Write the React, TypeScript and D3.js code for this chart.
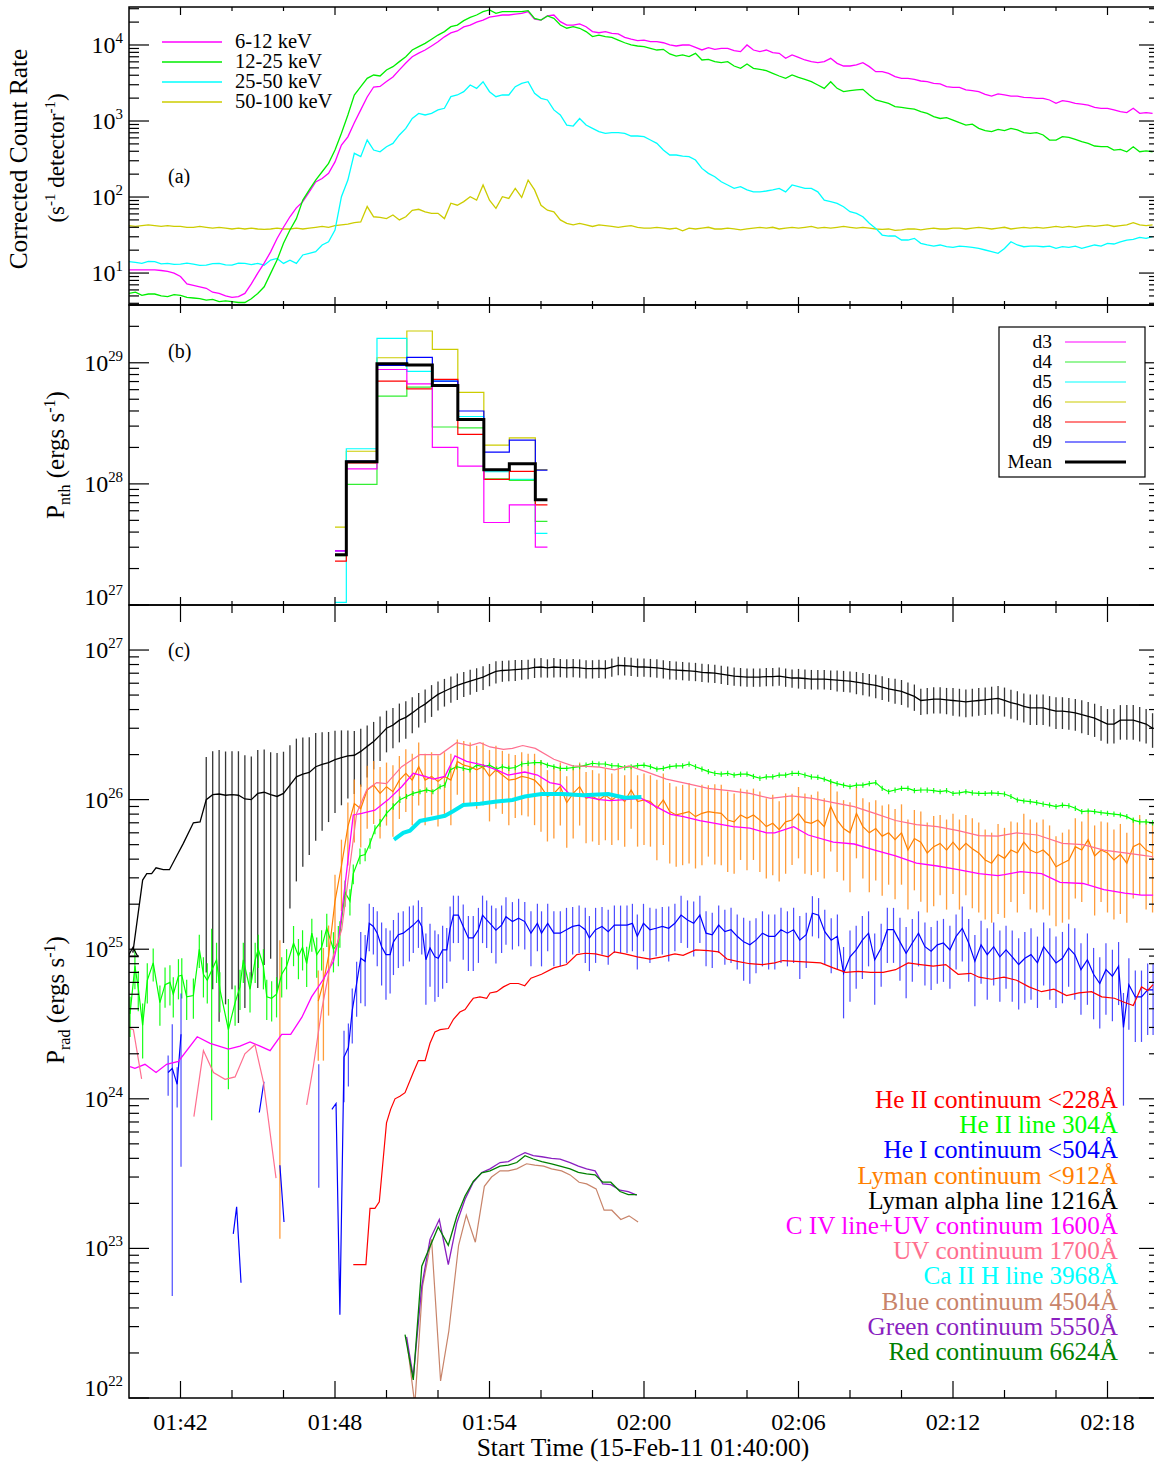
import React from 'react';
import * as d3 from 'd3';

// ---------------- DATA ----------------
// Panel (a): RHESSI corrected count rates, minutes after 01:40:00 on a 15 s grid
const T_GRID: number[] = d3.range(0, 40, 0.25);

const RATE_6_12 = [
  11, 11, 11, 11, 11, 10.8, 10.5, 10,
  9, 7.2, 6.9, 6.6, 6.3, 5.6, 5.4, 5.0,
  4.8, 4.9, 5.4, 7.2, 10, 13.5, 19, 28.5,
  40, 55, 72, 87, 117, 158, 175, 205,
  290, 483, 620, 950, 1400, 2070, 2800, 2850,
  3300, 3800, 4700, 5800, 7000, 7800, 8600, 9700,
  11000, 12800, 14400, 15300, 17300, 18300, 20000, 21300,
  23300, 24000, 24800, 24800, 25500, 26100, 27500, 21800,
  21300, 24100, 24800, 20300, 18300, 18300, 18900, 17400,
  15000, 14500, 15000, 14200, 14000, 12600, 11900, 11400,
  11600, 11100, 11100, 10700, 10000, 9700, 10000, 10000,
  9300, 8600, 9230, 8770, 9040, 9040, 8420, 8170,
  10000, 8590, 8170, 8590, 7930, 7770, 6680, 7390,
  6880, 6350, 6040, 5860, 6040, 6680, 5740, 5290,
  5290, 5460, 5860, 5190, 4460, 4460, 4240, 3830,
  3640, 3640, 3530, 3360, 3290, 3130, 3070, 2830,
  2770, 2770, 2560, 2510, 2430, 2240, 2130, 2270,
  2200, 2130, 2130, 2050, 2030, 1990, 1990, 1890,
  1710, 1850, 1800, 1710, 1670, 1620, 1510, 1470,
  1470, 1400, 1330, 1290, 1470, 1260, 1290, 1260,
];

const RATE_12_25 = [
  5.4, 5.6, 5.1, 5.3, 5.3, 5.0, 4.9, 5.2,
  5.1, 4.8, 4.7, 4.6, 4.4, 4.5, 4.2, 4.3,
  4.2, 4.1, 4.1, 4.6, 5.4, 6.6, 9.9, 14.8,
  24.6, 36.8, 52, 91, 124, 167, 215, 277,
  415, 689, 1200, 2200, 2830, 3640, 4030, 3910,
  4690, 5190, 6040, 7020, 8590, 9510, 10500, 11900,
  13500, 15000, 17400, 18300, 20900, 23100, 24800, 27500,
  28900, 26100, 27500, 27500, 27500, 27500, 28300, 22400,
  21300, 24100, 22400, 18300, 16600, 17400, 16600, 15000,
  12900, 13500, 12900, 12600, 11600, 10700, 10000, 9700,
  9510, 9040, 8590, 8770, 7630, 7160, 7390, 7020,
  7770, 6350, 6480, 6040, 5860, 6040, 5290, 4930,
  5620, 4930, 4790, 4590, 4240, 3910, 3640, 4030,
  3760, 3530, 3290, 2980, 2690, 3290, 2690, 2430,
  2510, 2560, 2610, 2200, 1890, 1800, 1710, 1550,
  1510, 1470, 1430, 1330, 1260, 1140, 1080, 1110,
  1030, 950, 885, 910, 800, 747, 725, 777,
  747, 800, 762, 702, 689, 702, 655, 562,
  562, 622, 610, 574, 535, 508, 469, 459,
  459, 415, 424, 394, 459, 394, 404, 394,
];

const RATE_25_50 = [
  14.1, 13.8, 13.4, 14.2, 14.1, 13.2, 13.4, 13.0,
  13.1, 13.5, 13.1, 12.6, 12.7, 13.3, 13.4, 12.8,
  12.7, 13.5, 13.4, 12.9, 13.4, 12.7, 14.8, 15.6,
  13.4, 14.8, 13.4, 17.3, 18.2, 19.1, 23.4, 25.8,
  36.8, 101, 167, 376, 340, 562, 415, 394,
  459, 508, 655, 800, 1080, 1260, 1200, 1260,
  1400, 1470, 2090, 2200, 2430, 2980, 2690, 3290,
  2430, 2090, 2200, 2200, 2830, 3130, 3290, 2310,
  1990, 1890, 1400, 1200, 885, 859, 1080, 885,
  800, 725, 689, 702, 702, 689, 635, 635,
  622, 562, 508, 415, 357, 357, 346, 340,
  307, 238, 205, 185, 159, 144, 130, 137,
  124, 117, 117, 120, 124, 130, 117, 144,
  137, 130, 130, 117, 91, 86.8, 82.5, 74.6,
  64.1, 60.9, 55.1, 45.1, 38.7, 31.6, 30.7, 30.7,
  27.2, 27.2, 28.6, 24.6, 23.4, 22.6, 23.4, 22.2,
  21.8, 22.6, 22.2, 21.8, 21.1, 20.1, 19.1, 18.2,
  21.1, 25.8, 23.4, 22.2, 22.6, 22.6, 22.2, 22.6,
  21.1, 22.2, 21.8, 22.6, 21.1, 22.2, 23.4, 22.6,
  24.6, 24.1, 25.8, 27.2, 27.7, 29.5, 28.6, 30.1,
];

const RATE_50_100 = [
  42, 41, 42, 43, 42, 41, 42, 41,
  41, 40, 40, 41, 40, 39, 40, 39,
  38, 39, 38, 39, 38, 37.5, 38, 39,
  38, 38, 39, 38, 39, 40, 41, 40,
  42, 43, 44, 46, 47, 75, 55, 54,
  52, 58, 50, 55, 67, 69, 64, 61,
  61, 52, 83, 78, 87, 101, 91, 144,
  91, 71, 101, 96, 130, 99, 167, 124,
  78, 67, 64, 50, 45, 43, 45, 43,
  41, 43, 42, 41, 40, 41, 42, 40,
  39, 39, 40, 39, 38, 39, 36, 39,
  38, 39, 40, 38, 38, 39, 38, 37,
  38, 39, 40, 39, 40, 38, 39, 40,
  39, 40, 41, 39, 40, 39, 40, 41,
  40, 39, 40, 39, 38, 37.5, 38, 36.5,
  37, 38, 38, 37, 38, 39, 38, 38,
  39, 39, 38, 39, 40, 39, 38, 39,
  40, 38, 39, 40, 39, 40, 39, 40,
  41, 40, 41, 40, 41, 42, 41, 42,
  43, 41, 42, 43, 46, 43, 42, 43,
];

// Panel (b): non-thermal power per detector, histogram bins (minutes)
const PNTH_EDGES = [8.0, 8.44, 9.63, 10.79, 11.78, 12.77, 13.78, 14.77, 15.78, 16.25];
const PNTH_D3 = [2.8e27, 1.33e28, 8.8e28, 6.7e28, 2.0e28, 1.4e28, 4.8e27, 6.7e27, 3.0e27];
const PNTH_D4 = [2.55e27, 9.9e27, 5.3e28, 6.3e28, 2.95e28, 2.9e28, 1.1e28, 1.07e28, 4.9e27];
const PNTH_D5 = [1.05e27, 1.95e28, 1.59e29, 8.5e28, 7.05e28, 3.6e28, 1.26e28, 1.09e28, 3.9e27];
const PNTH_D6 = [4.4e27, 1.86e28, 1.1e29, 1.83e29, 1.29e29, 5.7e28, 2.09e28, 2.4e28, 1.31e28];
const PNTH_D8 = [2.3e27, 1.49e28, 7.05e28, 6.1e28, 7.3e28, 2.56e28, 1.09e28, 1.27e28, 6.7e27];
const PNTH_D9 = [2.8e27, 1.54e28, 9.5e28, 1.11e29, 7.05e28, 4.0e28, 1.83e28, 2.3e28, 1.3e28];
const PNTH_MEAN = [2.6e27, 1.52e28, 9.8e28, 9.6e28, 6.5e28, 3.4e28, 1.31e28, 1.47e28, 7.4e27];

// Panel (c): radiated power [minute, value, relative error]; null = gap
type PE = [number, number, number] | null;
type P = [number, number] | null;

const LYA_1216: PE[] = [
  [0.15, 9.5e24, 0], [0.53, 2.9e25, 0], [0.69, 3.2e25, 0], [0.88, 3.2e25, 0], [1.05, 3.5e25, 0],
  [1.33, 3.4e25, 0], [1.57, 3.4e25, 0], [1.85, 4.2e25, 0], [2.11, 5.1e25, 0], [2.5, 7.0e25, 0], [2.76, 7.1e25, 0],
  [3.0, 1.0e26, 0.93], [3.25, 1.08e26, 0.95], [3.5, 1.09e26, 0.97], [3.75, 1.07e26, 0.96], [4.0, 1.08e26, 0.95],
  [4.25, 1.07e26, 0.97], [4.5, 1.01e26, 0.96], [4.75, 1.0e26, 0.94], [5.0, 1.1e26, 0.95], [5.25, 1.12e26, 0.93],
  [5.5, 1.08e26, 0.92], [5.75, 1.05e26, 0.95], [6.0, 1.1e26, 0.9], [6.25, 1.25e26, 0.85], [6.5, 1.42e26, 0.8],
  [6.75, 1.48e26, 0.76], [7.0, 1.52e26, 0.72], [7.25, 1.66e26, 0.68], [7.5, 1.72e26, 0.64], [7.75, 1.77e26, 0.6],
  [8.0, 1.85e26, 0.56], [8.25, 1.91e26, 0.52], [8.5, 1.96e26, 0.48], [8.75, 1.98e26, 0.45], [9.0, 2.1e26, 0.42],
  [9.25, 2.27e26, 0.38], [9.5, 2.45e26, 0.35], [9.75, 2.7e26, 0.33], [10.0, 3.0e26, 0.31], [10.25, 3.15e26, 0.3],
  [10.5, 3.4e26, 0.29], [10.75, 3.55e26, 0.28], [11.0, 3.8e26, 0.27], [11.25, 4.1e26, 0.26], [11.5, 4.35e26, 0.25],
  [11.75, 4.7e26, 0.24], [12.0, 5.05e26, 0.22], [12.25, 5.3e26, 0.21], [12.5, 5.55e26, 0.2], [12.75, 5.8e26, 0.2],
  [13.0, 6.0e26, 0.19], [13.25, 6.2e26, 0.19], [13.5, 6.4e26, 0.18], [13.75, 6.6e26, 0.18], [14.0, 6.9e26, 0.17],
  [14.25, 7.2e26, 0.17], [14.5, 7.3e26, 0.16], [14.75, 7.35e26, 0.16], [15.0, 7.4e26, 0.16], [15.25, 7.45e26, 0.15],
  [15.5, 7.5e26, 0.15], [15.75, 7.65e26, 0.15], [16.0, 7.7e26, 0.15], [16.25, 7.6e26, 0.14], [16.5, 7.7e26, 0.15],
  [16.75, 7.65e26, 0.14], [17.0, 7.6e26, 0.14], [17.25, 7.65e26, 0.14], [17.5, 7.6e26, 0.14], [17.75, 7.5e26, 0.14],
  [18.0, 7.5e26, 0.14], [18.25, 7.55e26, 0.14], [18.5, 7.5e26, 0.14], [18.75, 7.7e26, 0.14], [19.0, 7.9e26, 0.14],
  [19.25, 7.85e26, 0.14], [19.5, 7.8e26, 0.14], [19.75, 7.7e26, 0.14], [20.0, 7.7e26, 0.14], [20.25, 7.65e26, 0.14],
  [20.5, 7.6e26, 0.14], [20.75, 7.5e26, 0.14], [21.0, 7.4e26, 0.14], [21.25, 7.35e26, 0.14], [21.5, 7.3e26, 0.14],
  [21.75, 7.25e26, 0.14], [22.0, 7.2e26, 0.14], [22.25, 7.1e26, 0.14], [22.5, 7.05e26, 0.14], [22.75, 7.0e26, 0.14],
  [23.0, 6.9e26, 0.14], [23.25, 6.8e26, 0.14], [23.5, 6.7e26, 0.14], [23.75, 6.65e26, 0.14], [24.0, 6.6e26, 0.14],
  [24.25, 6.6e26, 0.14], [24.5, 6.6e26, 0.14], [24.75, 6.65e26, 0.14], [25.0, 6.65e26, 0.14], [25.25, 6.7e26, 0.14],
  [25.5, 6.6e26, 0.14], [25.75, 6.5e26, 0.14], [26.0, 6.5e26, 0.15], [26.25, 6.45e26, 0.15], [26.5, 6.4e26, 0.15],
  [26.75, 6.4e26, 0.15], [27.0, 6.4e26, 0.15], [27.25, 6.35e26, 0.15], [27.5, 6.3e26, 0.16], [27.75, 6.25e26, 0.16],
  [28.0, 6.2e26, 0.16], [28.25, 6.1e26, 0.17], [28.5, 6.0e26, 0.17], [28.75, 5.9e26, 0.17], [29.0, 5.8e26, 0.18],
  [29.25, 5.65e26, 0.18], [29.5, 5.5e26, 0.18], [29.75, 5.4e26, 0.19], [30.0, 5.3e26, 0.19], [30.25, 5.1e26, 0.19],
  [30.5, 4.9e26, 0.2], [30.75, 4.6e26, 0.2], [31.0, 4.65e26, 0.2], [31.25, 4.7e26, 0.2], [31.5, 4.7e26, 0.2],
  [31.75, 4.65e26, 0.2], [32.0, 4.6e26, 0.21], [32.25, 4.55e26, 0.21], [32.5, 4.5e26, 0.21], [32.75, 4.55e26, 0.21],
  [33.0, 4.6e26, 0.21], [33.25, 4.65e26, 0.21], [33.5, 4.7e26, 0.21], [33.75, 4.75e26, 0.21], [34.0, 4.6e26, 0.22],
  [34.25, 4.45e26, 0.22], [34.5, 4.35e26, 0.22], [34.75, 4.2e26, 0.22], [35.0, 4.1e26, 0.23], [35.25, 4.1e26, 0.23],
  [35.5, 4.1e26, 0.23], [35.75, 4.0e26, 0.23], [36.0, 3.9e26, 0.24], [36.25, 3.9e26, 0.24], [36.5, 3.86e26, 0.24],
  [36.75, 3.8e26, 0.24], [37.0, 3.7e26, 0.25], [37.25, 3.6e26, 0.25], [37.5, 3.5e26, 0.25], [37.75, 3.35e26, 0.26],
  [38.0, 3.2e26, 0.26], [38.25, 3.2e26, 0.26], [38.5, 3.4e26, 0.26], [38.75, 3.4e26, 0.26], [39.0, 3.4e26, 0.26],
  [39.25, 3.3e26, 0.26], [39.5, 3.2e26, 0.26], [39.75, 3.0e26, 0.26],
];

const LYC_912: PE[] = [
  [5.86, 5.8e24, 0.98], null,
  [7.35, 4.5e24, 0.6], [7.55, 6.0e24, 0.7], [7.75, 9.0e24, 0.6], [8.0, 2.1e25, 0.5], [8.25, 3.6e25, 0.5],
  [8.5, 6.6e25, 0.45], [8.75, 9.4e25, 0.45], [9.0, 8.7e25, 0.45], [9.25, 1.16e26, 0.45], [9.5, 1.25e26, 0.45],
  [9.75, 1.1e26, 0.5], [10.0, 1.22e26, 0.45], [10.25, 1.13e26, 0.5], [10.5, 1.35e26, 0.45], [10.75, 1.5e26, 0.45],
  [11.0, 1.35e26, 0.5], [11.25, 1.66e26, 0.45], [11.5, 1.35e26, 0.5], [11.75, 1.43e26, 0.45], [12.0, 1.32e26, 0.5],
  [12.25, 1.43e26, 0.45], [12.5, 1.35e26, 0.5], [12.75, 1.8e26, 0.4], [13.0, 1.7e26, 0.45], [13.25, 1.66e26, 0.45],
  [13.5, 1.58e26, 0.45], [13.75, 1.66e26, 0.45], [14.0, 1.43e26, 0.5], [14.25, 1.58e26, 0.45], [14.5, 1.46e26, 0.45],
  [14.75, 1.35e26, 0.5], [15.0, 1.37e26, 0.45], [15.25, 1.43e26, 0.45], [15.5, 1.4e26, 0.45], [15.75, 1.35e26, 0.5],
  [16.0, 1.22e26, 0.5], [16.25, 1.05e26, 0.5], [16.5, 1.1e26, 0.5], [16.75, 1.22e26, 0.45], [17.0, 9.55e25, 0.5],
  [17.25, 1.1e26, 0.5], [17.5, 1.22e26, 0.45], [17.75, 1.02e26, 0.5], [18.0, 1.05e26, 0.5], [18.25, 9.95e25, 0.5],
  [18.5, 1.07e26, 0.5], [18.75, 9.95e25, 0.5], [19.0, 1.07e26, 0.5], [19.25, 9.7e25, 0.5], [19.5, 1.16e26, 0.45],
  [19.75, 9.7e25, 0.5], [20.0, 9.95e25, 0.5], [20.25, 9.7e25, 0.5], [20.5, 8.75e25, 0.55], [20.75, 9.95e25, 0.5],
  [21.0, 8.32e25, 0.55], [21.25, 7.9e25, 0.55], [21.5, 8.1e25, 0.55], [21.75, 8.32e25, 0.55], [22.0, 7.7e25, 0.55],
  [22.25, 8.1e25, 0.55], [22.5, 8.32e25, 0.5], [22.75, 8.18e25, 0.55], [23.0, 8.1e25, 0.55], [23.25, 7.3e25, 0.55],
  [23.5, 7.1e25, 0.55], [23.75, 7.9e25, 0.5], [24.0, 7.5e25, 0.55], [24.25, 7.9e25, 0.5], [24.5, 7.3e25, 0.55],
  [24.75, 6.6e25, 0.55], [25.0, 6.95e25, 0.55], [25.25, 6.3e25, 0.55], [25.5, 7.1e25, 0.55], [25.75, 7.3e25, 0.5],
  [26.0, 8.1e25, 0.5], [26.25, 7.1e25, 0.55], [26.5, 6.95e25, 0.55], [26.75, 7.3e25, 0.55], [27.0, 6.6e25, 0.55],
  [27.25, 9.0e25, 0.5], [27.5, 7.3e25, 0.55], [27.75, 6.4e25, 0.55], [28.0, 6.0e25, 0.6], [28.25, 8.1e25, 0.5],
  [28.5, 6.6e25, 0.55], [28.75, 6.0e25, 0.6], [29.0, 6.4e25, 0.55], [29.25, 5.7e25, 0.6], [29.5, 6.0e25, 0.55],
  [29.75, 5.4e25, 0.6], [30.0, 6.0e25, 0.55], [30.25, 4.6e25, 0.6], [30.5, 5.5e25, 0.55], [30.75, 5.2e25, 0.6],
  [31.0, 4.4e25, 0.6], [31.25, 4.85e25, 0.6], [31.5, 5.1e25, 0.55], [31.75, 4.6e25, 0.6], [32.0, 5.2e25, 0.55],
  [32.25, 4.6e25, 0.6], [32.5, 5.1e25, 0.55], [32.75, 4.7e25, 0.6], [33.0, 4.4e25, 0.6], [33.25, 3.95e25, 0.6],
  [33.5, 3.76e25, 0.6], [33.75, 4.3e25, 0.6], [34.0, 4.05e25, 0.6], [34.25, 4.6e25, 0.55], [34.5, 4.4e25, 0.6],
  [34.75, 5.2e25, 0.55], [35.0, 4.6e25, 0.6], [35.25, 4.4e25, 0.6], [35.5, 4.6e25, 0.6], [35.75, 4.2e25, 0.6],
  [36.0, 3.56e25, 0.6], [36.25, 3.76e25, 0.6], [36.5, 3.95e25, 0.6], [36.75, 4.85e25, 0.55], [37.0, 4.6e25, 0.55],
  [37.25, 5.4e25, 0.5], [37.5, 4.2e25, 0.6], [37.75, 4.6e25, 0.55], [38.0, 4.4e25, 0.6], [38.25, 3.95e25, 0.6],
  [38.5, 4.3e25, 0.6], [38.75, 3.76e25, 0.6], [39.0, 4.85e25, 0.55], [39.25, 5.1e25, 0.55], [39.5, 4.6e25, 0.6],
  [39.75, 4.4e25, 0.6],
];

const HEII_304: PE[] = [
  [0.04, 3.7e24, 0.3], [0.23, 7.7e24, 0.3], [0.36, 5.5e24, 0.3], [0.53, 3.1e24, 0.4], [0.71, 6.2e24, 0.3],
  [0.94, 8.1e24, 0.25], [1.2, 4.4e24, 0.3], [1.4, 5.8e24, 0.3], [1.59, 6.0e24, 0.3], [1.72, 5.0e24, 0.3],
  [1.92, 6.6e24, 0.3], [2.05, 6.7e24, 0.3], [2.24, 4.8e24, 0.3], [2.5, 4.9e24, 0.3], [2.73, 1.0e25, 0.25],
  [2.89, 6.8e24, 0.3], [3.04, 6.2e24, 0.3], [3.21, 7.2e24, 0.9], [3.4, 8.5e24, 0.3], [3.53, 5.4e24, 0.3],
  [3.86, 2.9e24, 0.6], [4.12, 4.4e24, 0.3], [4.31, 5.6e24, 0.3], [4.44, 8.5e24, 0.3], [4.7, 5.4e24, 0.3],
  [4.9, 8.5e24, 0.3], [5.02, 1.0e25, 0.25], [5.22, 7.7e24, 0.3], [5.35, 4.8e24, 0.3], [5.54, 4.7e24, 0.3],
  [5.73, 5.0e24, 0.3], [5.93, 6.8e24, 0.3], [6.12, 7.7e24, 0.3], [6.39, 1.1e25, 0.3], [6.58, 9.0e24, 0.3],
  [6.74, 1.03e25, 0.3], [6.9, 8.0e24, 0.3], [7.1, 1.28e25, 0.25], [7.29, 9.2e24, 0.3], [7.48, 1.03e25, 0.3],
  [7.68, 1.38e25, 0.25], [7.94, 1.0e25, 0.3], [8.13, 1.1e25, 0.3], [8.19, 1.28e25, 0.2], [8.39, 2.4e25, 0.2],
  [8.58, 2.1e25, 0.2], [8.71, 3.2e25, 0.15], [8.97, 4.2e25, 0.12], [9.17, 4.3e25, 0.1], [9.36, 5.1e25, 0.08],
  [9.55, 6.3e25, 0.07], [9.75, 7.0e25, 0.06], [10.0, 8.1e25, 0.05], [10.26, 9.0e25, 0.05], [10.52, 1.0e26, 0.05],
  [10.78, 1.05e26, 0.04], [11.03, 1.1e26, 0.04], [11.3, 1.13e26, 0.04], [11.56, 1.16e26, 0.04], [11.8, 1.13e26, 0.04],
  [12.08, 1.22e26, 0.04], [12.27, 1.25e26, 0.04], [12.47, 1.58e26, 0.04], [12.72, 1.66e26, 0.04], [12.98, 1.62e26, 0.04],
  [13.24, 1.58e26, 0.04], [13.5, 1.7e26, 0.04], [13.76, 1.66e26, 0.04], [14.0, 1.7e26, 0.04], [14.28, 1.6e26, 0.04],
  [14.5, 1.66e26, 0.04], [14.75, 1.62e26, 0.04], [15.0, 1.64e26, 0.04], [15.25, 1.73e26, 0.04], [15.5, 1.75e26, 0.04],
  [15.75, 1.77e26, 0.04], [16.0, 1.77e26, 0.04], [16.25, 1.7e26, 0.04], [16.5, 1.66e26, 0.04], [16.75, 1.62e26, 0.04],
  [17.0, 1.62e26, 0.04], [17.25, 1.64e26, 0.04], [17.5, 1.66e26, 0.04], [17.75, 1.7e26, 0.04], [18.0, 1.75e26, 0.04],
  [18.25, 1.73e26, 0.04], [18.5, 1.73e26, 0.04], [18.75, 1.69e26, 0.04], [19.0, 1.68e26, 0.04], [19.25, 1.64e26, 0.04],
  [19.5, 1.66e26, 0.04], [19.75, 1.69e26, 0.04], [20.0, 1.7e26, 0.04], [20.25, 1.66e26, 0.04], [20.5, 1.6e26, 0.04],
  [20.75, 1.62e26, 0.04], [21.0, 1.66e26, 0.04], [21.25, 1.68e26, 0.04], [21.5, 1.68e26, 0.04], [21.75, 1.73e26, 0.04],
  [22.0, 1.66e26, 0.04], [22.25, 1.6e26, 0.04], [22.5, 1.54e26, 0.04], [22.75, 1.5e26, 0.04], [23.0, 1.48e26, 0.04],
  [23.25, 1.5e26, 0.04], [23.5, 1.46e26, 0.04], [23.75, 1.48e26, 0.04], [24.0, 1.48e26, 0.04], [24.25, 1.43e26, 0.04],
  [24.5, 1.39e26, 0.04], [24.75, 1.42e26, 0.04], [25.0, 1.42e26, 0.04], [25.25, 1.46e26, 0.04], [25.5, 1.46e26, 0.04],
  [25.75, 1.5e26, 0.04], [26.0, 1.5e26, 0.04], [26.25, 1.46e26, 0.04], [26.5, 1.42e26, 0.04], [26.75, 1.41e26, 0.04],
  [27.0, 1.37e26, 0.04], [27.25, 1.32e26, 0.04], [27.5, 1.28e26, 0.04], [27.75, 1.25e26, 0.04], [28.0, 1.22e26, 0.04],
  [28.25, 1.25e26, 0.04], [28.5, 1.25e26, 0.04], [28.75, 1.28e26, 0.04], [29.0, 1.3e26, 0.04], [29.25, 1.19e26, 0.04],
  [29.5, 1.13e26, 0.04], [29.75, 1.16e26, 0.04], [30.0, 1.19e26, 0.04], [30.25, 1.19e26, 0.04], [30.5, 1.15e26, 0.04],
  [30.75, 1.16e26, 0.04], [31.0, 1.16e26, 0.04], [31.25, 1.15e26, 0.04], [31.5, 1.13e26, 0.04], [31.75, 1.15e26, 0.04],
  [32.0, 1.1e26, 0.04], [32.25, 1.11e26, 0.04], [32.5, 1.13e26, 0.04], [32.75, 1.11e26, 0.04], [33.0, 1.1e26, 0.04],
  [33.25, 1.1e26, 0.04], [33.5, 1.11e26, 0.04], [33.75, 1.1e26, 0.04], [34.0, 1.09e26, 0.04], [34.25, 1.05e26, 0.04],
  [34.5, 9.95e25, 0.04], [34.75, 9.8e25, 0.04], [35.0, 9.7e25, 0.04], [35.25, 9.55e25, 0.04], [35.5, 9.35e25, 0.04],
  [35.75, 9.2e25, 0.04], [36.0, 8.98e25, 0.04], [36.25, 9.2e25, 0.04], [36.5, 9.1e25, 0.04], [36.75, 8.75e25, 0.04],
  [37.0, 8.32e25, 0.04], [37.25, 8.4e25, 0.04], [37.5, 8.32e25, 0.04], [37.75, 8.18e25, 0.04], [38.0, 8.1e25, 0.04],
  [38.25, 8.0e25, 0.04], [38.5, 7.9e25, 0.04], [38.75, 7.7e25, 0.04], [39.0, 7.3e25, 0.04], [39.25, 7.1e25, 0.04],
  [39.5, 7.1e25, 0.04], [39.75, 7.0e25, 0.04],
];

const HEI_504: PE[] = [
  [1.52, 1.5e24, 0.3], [1.68, 1.6e24, 0.97], [1.87, 1.25e24, 0.3], [2.02, 2.7e24, 0.87], null,
  [4.05, 1.25e23, 0], [4.18, 1.9e23, 0], [4.35, 5.9e22, 0], null,
  [5.06, 8.1e23, 0], [5.24, 1.3e24, 0], null,
  [5.86, 3.6e23, 0], [6.02, 1.5e23, 0], null,
  [7.37, 9.8e23, 0.74], null,
  [7.88, 8.5e23, 0], [8.04, 9.3e23, 0], [8.19, 3.6e22, 0], [8.35, 1.9e24, 0.5], [8.52, 2.2e24, 0.45],
  [8.67, 3.9e24, 0.4], [8.84, 5.9e24, 0.4], [9.0, 8.7e24, 0.5], [9.17, 8.3e24, 0.5], [9.33, 1.49e25, 0.35],
  [9.49, 1.42e25, 0.35], [9.64, 1.28e25, 0.4], [9.81, 1.04e25, 0.45], [9.98, 9.2e24, 0.5], [10.14, 9.2e24, 0.45],
  [10.27, 1.12e25, 0.4], [10.46, 1.25e25, 0.4], [10.65, 1.28e25, 0.4], [10.89, 1.38e25, 0.4], [11.04, 1.45e25, 0.35],
  [11.24, 1.57e25, 0.35], [11.37, 1.42e25, 0.35], [11.53, 8.5e24, 0.5], [11.69, 1.02e25, 0.45], [11.88, 8.9e24, 0.5],
  [12.01, 8.7e24, 0.45], [12.18, 9.9e24, 0.45], [12.34, 9.9e24, 0.4], [12.47, 1.38e25, 0.4], [12.6, 1.69e25, 0.35],
  [12.79, 1.69e25, 0.35], [12.98, 1.42e25, 0.4], [13.18, 1.19e25, 0.4], [13.37, 1.19e25, 0.4], [13.57, 1.35e25, 0.4],
  [13.73, 1.69e25, 0.35], [13.89, 1.57e25, 0.35], [14.08, 1.45e25, 0.35], [14.25, 1.34e25, 0.4], [14.47, 1.45e25, 0.35],
  [14.64, 1.65e25, 0.35], [14.89, 1.53e25, 0.35], [15.13, 1.61e25, 0.35], [15.37, 1.53e25, 0.35], [15.61, 1.28e25, 0.4],
  [15.86, 1.49e25, 0.35], [16.02, 1.28e25, 0.4], [16.26, 1.49e25, 0.35], [16.5, 1.28e25, 0.4], [16.75, 1.28e25, 0.4],
  [16.99, 1.35e25, 0.4], [17.23, 1.42e25, 0.35], [17.48, 1.45e25, 0.35], [17.72, 1.35e25, 0.4], [17.88, 1.19e25, 0.4],
  [18.12, 1.35e25, 0.4], [18.37, 1.42e25, 0.35], [18.61, 1.31e25, 0.4], [18.85, 1.45e25, 0.35], [19.09, 1.45e25, 0.35],
  [19.34, 1.45e25, 0.35], [19.55, 1.49e25, 0.35], [19.74, 1.22e25, 0.4], [19.98, 1.49e25, 0.35], [20.23, 1.35e25, 0.4],
  [20.47, 1.38e25, 0.35], [20.71, 1.42e25, 0.35], [20.96, 1.38e25, 0.4], [21.2, 1.49e25, 0.35], [21.44, 1.69e25, 0.35],
  [21.69, 1.57e25, 0.35], [21.93, 1.49e25, 0.4], [22.17, 1.69e25, 0.35], [22.41, 1.28e25, 0.4], [22.65, 1.25e25, 0.4],
  [22.9, 1.45e25, 0.35], [23.14, 1.31e25, 0.4], [23.38, 1.35e25, 0.4], [23.62, 1.22e25, 0.4], [23.87, 1.12e25, 0.45],
  [24.11, 1.07e25, 0.45], [24.35, 1.15e25, 0.4], [24.6, 1.28e25, 0.4], [24.84, 1.22e25, 0.4], [25.08, 1.22e25, 0.4],
  [25.32, 1.35e25, 0.4], [25.57, 1.28e25, 0.4], [25.81, 1.35e25, 0.4], [26.05, 1.15e25, 0.45], [26.3, 1.25e25, 0.4],
  [26.54, 1.74e25, 0.3], [26.78, 1.69e25, 0.3], [27.02, 1.31e25, 0.4], [27.27, 1.15e25, 0.4], [27.51, 1.22e25, 0.4],
  [27.75, 6.9e24, 0.5], [28.0, 8.9e24, 0.5], [28.24, 9.9e24, 0.45], [28.48, 1.15e25, 0.45], [28.72, 1.28e25, 0.4],
  [28.96, 8.5e24, 0.5], [29.21, 1.02e25, 0.45], [29.45, 1.35e25, 0.4], [29.69, 1.35e25, 0.4], [29.94, 1.12e25, 0.45],
  [30.18, 9.4e24, 0.5], [30.42, 1.1e25, 0.45], [30.66, 1.28e25, 0.4], [30.91, 1.04e25, 0.45], [31.15, 9.7e24, 0.45],
  [31.39, 1.07e25, 0.45], [31.63, 1.1e25, 0.45], [31.88, 9.9e24, 0.45], [32.12, 1.22e25, 0.4], [32.36, 1.38e25, 0.4],
  [32.61, 1.1e25, 0.45], [32.85, 8.3e24, 0.5], [33.09, 1.07e25, 0.45], [33.33, 9.2e24, 0.5], [33.58, 1.04e25, 0.45],
  [33.82, 8.9e24, 0.5], [34.06, 9.9e24, 0.45], [34.3, 8.9e24, 0.5], [34.55, 7.9e24, 0.5], [34.79, 8.7e24, 0.5],
  [35.03, 9.2e24, 0.5], [35.28, 8.1e24, 0.5], [35.52, 1.04e25, 0.45], [35.76, 9.2e24, 0.5], [36.0, 8.1e24, 0.5],
  [36.25, 8.7e24, 0.5], [36.49, 1.02e25, 0.45], [36.73, 9.2e24, 0.5], [36.97, 7.3e24, 0.5], [37.22, 8.5e24, 0.5],
  [37.46, 6.8e24, 0.5], [37.7, 5.9e24, 0.5], [37.94, 7.3e24, 0.5], [38.19, 6.6e24, 0.5], [38.43, 7.7e24, 0.45],
  [38.62, 3.0e24, 0.7], [38.83, 5.8e24, 0.5], [39.08, 4.8e24, 0.5], [39.32, 4.8e24, 0.5], [39.56, 5.35e24, 0.5],
  [39.77, 5.35e24, 0.5],
];

const HEII_CONT_228: P[] = [
  [8.71, 7.8e22], [9.2, 7.8e22], [9.36, 1.85e23], [9.55, 1.85e23], [9.72, 2.05e23], [9.88, 4.1e23], [10.0, 6.9e23],
  [10.16, 8.5e23], [10.33, 1.0e24], [10.52, 1.04e24], [10.72, 1.1e24], [11.04, 1.5e24], [11.24, 1.8e24], [11.5, 1.8e24],
  [11.69, 2.35e24], [11.88, 2.8e24], [12.08, 2.9e24], [12.4, 2.95e24], [12.6, 3.4e24], [12.85, 3.8e24], [13.05, 3.95e24],
  [13.24, 4.4e24], [13.37, 4.7e24], [13.63, 4.8e24], [13.89, 4.7e24], [14.02, 5.1e24], [14.28, 5.2e24], [14.54, 5.6e24],
  [14.8, 5.9e24], [15.12, 5.9e24], [15.37, 5.7e24], [15.61, 6.4e24], [16.02, 6.8e24], [16.5, 7.5e24], [16.99, 7.9e24],
  [17.39, 9.2e24], [17.72, 9.4e24], [18.12, 9.3e24], [18.61, 8.9e24], [18.85, 9.6e24], [19.26, 9.3e24], [19.74, 8.9e24],
  [20.23, 8.6e24], [20.71, 8.9e24], [21.2, 9.3e24], [21.52, 9.1e24], [22.0, 9.9e24], [22.49, 9.8e24], [22.9, 9.6e24],
  [23.22, 8.6e24], [23.62, 8.3e24], [24.11, 8.0e24], [24.6, 7.9e24], [25.08, 8.1e24], [25.4, 8.4e24], [25.89, 8.3e24],
  [26.38, 8.2e24], [26.86, 8.1e24], [27.35, 7.5e24], [27.83, 7.0e24], [28.32, 7.1e24], [28.8, 7.0e24], [29.29, 7.0e24],
  [29.77, 7.3e24], [30.26, 8.1e24], [30.74, 7.9e24], [31.23, 7.7e24], [31.72, 7.9e24], [32.2, 6.8e24], [32.69, 6.9e24],
  [33.01, 6.5e24], [33.5, 6.3e24], [33.98, 6.5e24], [34.47, 6.2e24], [34.95, 5.6e24], [35.44, 5.2e24], [35.92, 5.4e24],
  [36.41, 4.9e24], [36.89, 5.1e24], [37.38, 5.2e24], [37.78, 4.8e24], [38.27, 4.7e24], [38.67, 4.4e24], [39.0, 4.2e24],
  [39.32, 5.6e24], [39.56, 5.3e24], [39.77, 5.8e24],
];

const CIV_1600: P[] = [
  [0.04, 1.64e24], [0.23, 1.6e24], [0.62, 1.7e24], [1.05, 1.5e24], [1.46, 1.7e24], [1.92, 1.78e24], [2.65, 2.6e24],
  [3.15, 2.35e24], [3.86, 2.15e24], [4.31, 2.25e24], [4.7, 2.4e24], [5.09, 2.25e24], [5.48, 2.1e24], [5.93, 2.7e24],
  [6.28, 2.7e24], [6.71, 3.5e24], [7.09, 4.8e24], [7.55, 6.3e24], [7.94, 8.3e24], [8.15, 1.2e25], [8.71, 7.9e25],
  [9.04, 8.1e25], [9.55, 8.5e25], [10.07, 1.0e26], [10.59, 1.22e26], [11.04, 1.5e26], [11.5, 1.43e26], [11.82, 1.37e26],
  [12.27, 1.43e26], [12.66, 1.96e26], [13.11, 1.8e26], [13.76, 1.7e26], [14.28, 1.58e26], [14.72, 1.46e26],
  [15.37, 1.53e26], [15.86, 1.46e26], [16.34, 1.3e26], [16.75, 1.26e26], [17.15, 1.07e26], [17.64, 1.05e26],
  [18.28, 1.0e26], [18.69, 9.85e25], [19.26, 1.0e26], [19.9, 1.02e26], [20.47, 8.98e25], [21.04, 7.98e25],
  [21.53, 7.7e25], [22.17, 7.25e25], [22.82, 6.9e25], [23.46, 6.6e25], [24.11, 6.45e25], [24.76, 6.0e25],
  [25.08, 6.0e25], [25.81, 6.6e25], [26.38, 5.8e25], [27.35, 5.2e25], [28.16, 5.05e25], [28.96, 4.6e25],
  [29.77, 4.2e25], [30.58, 3.76e25], [31.39, 3.6e25], [32.2, 3.4e25], [33.01, 3.2e25], [33.74, 3.1e25],
  [34.0, 3.15e25], [34.63, 3.3e25], [35.44, 3.2e25], [36.16, 2.8e25], [37.05, 2.75e25], [37.86, 2.5e25],
  [38.67, 2.37e25], [39.32, 2.3e25], [39.77, 2.3e25],
];

const UV_1700: P[] = [
  [0.04, 2.95e24], [0.17, 2.9e24], [0.49, 1.36e24], null,
  [2.52, 7.6e23], [2.89, 2.1e24], [3.28, 1.5e24], [3.73, 1.35e24], [4.12, 1.4e24], [4.5, 2.0e24], [4.89, 2.3e24],
  [5.22, 1.3e24], [5.71, 2.95e23], null,
  [6.9, 9.1e23], [7.16, 1.65e24], [7.48, 3.9e24], [7.81, 7.7e24], [8.26, 1.35e25], [8.84, 8.1e25], [9.23, 1.16e26],
  [9.62, 1.3e26], [10.0, 1.28e26], [10.59, 1.66e26], [11.3, 2.0e26], [12.08, 2.0e26], [12.72, 2.4e26], [13.24, 2.3e26],
  [13.63, 2.4e26], [14.02, 2.25e26], [14.54, 2.17e26], [14.89, 2.2e26], [15.29, 2.3e26], [15.78, 2.2e26],
  [16.5, 1.86e26], [17.23, 1.68e26], [17.8, 1.67e26], [18.28, 1.65e26], [18.85, 1.58e26], [19.42, 1.68e26],
  [20.07, 1.54e26], [20.87, 1.37e26], [21.68, 1.28e26], [22.49, 1.19e26], [23.3, 1.15e26], [24.11, 1.1e26],
  [24.92, 1.02e26], [25.73, 1.06e26], [26.54, 1.02e26], [27.35, 9.55e25], [28.16, 8.98e25], [28.96, 8.1e25],
  [29.77, 7.25e25], [30.58, 6.8e25], [31.39, 6.6e25], [32.2, 6.2e25], [33.01, 5.75e25], [33.74, 5.7e25],
  [34.47, 6.0e25], [35.28, 5.8e25], [36.25, 5.1e25], [37.05, 5.0e25], [37.86, 4.6e25], [38.67, 4.4e25],
  [39.32, 4.25e25], [39.77, 4.15e25],
];

const CAII_3968: P[] = [
  [10.29, 5.4e25], [10.65, 6.0e25], [10.91, 6.2e25], [11.3, 7.2e25], [11.82, 7.5e25], [12.27, 7.8e25], [12.6, 8.4e25],
  [12.98, 9.2e25], [13.63, 9.4e25], [14.28, 9.7e25], [14.89, 9.95e25], [15.37, 1.05e26], [16.02, 1.09e26],
  [16.83, 1.09e26], [17.64, 1.07e26], [18.61, 1.09e26], [19.26, 1.03e26], [19.9, 1.04e26],
];

const BLUE_4504: P[] = [
  [10.78, 2.5e22], [11.1, 9e21], [11.4, 5.6e22], [11.75, 1.15e23], [12.1, 1.3e22], [12.42, 2.8e22], [12.8, 1.05e23],
  [13.1, 1.67e23], [13.45, 1.1e23], [13.8, 2.6e23], [14.08, 3.0e23], [14.41, 3.3e23], [14.73, 3.3e23], [15.06, 3.4e23],
  [15.44, 3.68e23], [15.76, 3.6e23], [16.1, 3.55e23], [16.41, 3.4e23], [16.8, 3.3e23], [17.13, 3.1e23], [17.48, 2.77e23],
  [17.77, 2.7e23], [18.14, 2.5e23], [18.45, 1.8e23], [18.75, 1.8e23], [19.1, 1.56e23], [19.42, 1.65e23], [19.77, 1.5e23],
];

const GREEN_5550: P[] = [
  [10.78, 2.56e22], [11.04, 1.38e22], [11.37, 5.6e22], [11.69, 1.15e23], [12.05, 1.56e23], [12.4, 7.8e22],
  [12.73, 1.48e23], [13.05, 2.13e23], [13.37, 2.77e23], [13.7, 3.22e23], [14.02, 3.4e23], [14.41, 3.75e23],
  [14.73, 3.8e23], [15.06, 4.1e23], [15.38, 4.37e23], [15.7, 4.17e23], [16.03, 4.1e23], [16.41, 4.0e23],
  [16.74, 3.95e23], [17.13, 3.75e23], [17.45, 3.55e23], [17.77, 3.4e23], [18.1, 3.3e23], [18.4, 2.7e23],
  [18.71, 2.67e23], [19.07, 2.45e23], [19.39, 2.4e23], [19.72, 2.27e23],
];

const RED_6624: P[] = [
  [10.72, 2.65e22], [11.04, 1.32e22], [11.37, 7.6e22], [11.69, 1.03e23], [12.01, 1.39e23], [12.4, 1.05e23],
  [12.73, 1.64e23], [13.05, 2.24e23], [13.37, 2.8e23], [13.7, 3.2e23], [14.02, 3.3e23], [14.41, 3.55e23],
  [14.73, 3.6e23], [15.06, 3.75e23], [15.38, 4.17e23], [15.7, 3.96e23], [16.03, 3.8e23], [16.41, 3.68e23],
  [16.74, 3.55e23], [17.13, 3.4e23], [17.45, 3.22e23], [17.77, 3.15e23], [18.1, 3.1e23], [18.4, 2.77e23],
  [18.71, 2.77e23], [19.07, 2.4e23], [19.39, 2.29e23], [19.72, 2.29e23],
];

const LEGEND_A = [
  { label: '6-12 keV', color: '#ff00ff' },
  { label: '12-25 keV', color: '#00ee00' },
  { label: '25-50 keV', color: '#00ffff' },
  { label: '50-100 keV', color: '#cccc00' },
];
const LEGEND_B = [
  { label: 'd3', color: '#ff00ff' },
  { label: 'd4', color: '#33ee33' },
  { label: 'd5', color: '#00ffff' },
  { label: 'd6', color: '#cccc00' },
  { label: 'd8', color: '#ff0000' },
  { label: 'd9', color: '#0000ff' },
  { label: 'Mean', color: '#000000' },
];
const LEGEND_C = [
  { label: 'He II continuum <228Å', color: '#ff0000' },
  { label: 'He II line 304Å', color: '#00ff00' },
  { label: 'He I continuum <504Å', color: '#0000ff' },
  { label: 'Lyman continuum <912Å', color: '#ff8000' },
  { label: 'Lyman alpha line 1216Å', color: '#000000' },
  { label: 'C IV line+UV continuum 1600Å', color: '#ff00ff' },
  { label: 'UV continuum 1700Å', color: '#ff6f8f' },
  { label: 'Ca II H line 3968Å', color: '#00ffff' },
  { label: 'Blue continuum 4504Å', color: '#c8846a' },
  { label: 'Green continuum 5550Å', color: '#8a1fc0' },
  { label: 'Red continuum 6624Å', color: '#008000' },
];
const X_TICK_LABELS = ['01:42', '01:48', '01:54', '02:00', '02:06', '02:12', '02:18'];

// ---------------- LAYOUT ----------------
const FONT = '"Liberation Serif", "Times New Roman", Times, serif';
const XL = 129;
const XR = 1159;
const PA = { top: 7, bottom: 305 };
const PB = { top: 305, bottom: 605 };
const PC = { top: 605, bottom: 1398 };

const x = d3.scaleLinear().domain([0, 40]).range([XL, XR]);
const yA = d3.scaleLog().domain([3.8, 31600]).range([PA.bottom, PA.top]);
const yB = d3.scaleLog().domain([1e27, 3.0e29]).range([PB.bottom, PB.top]);
const yC = d3.scaleLog().domain([1e22, 2.0e27]).range([PC.bottom, PC.top]);

function logTicks(scale: d3.ScaleLogarithmic<number, number>) {
  const [lo, hi] = scale.domain();
  const out: { v: number; major: boolean; e: number }[] = [];
  for (let e = Math.floor(Math.log10(lo)); e <= Math.ceil(Math.log10(hi)); e++) {
    for (let k = 1; k <= 9; k++) {
      const v = k * Math.pow(10, e);
      if (v >= lo * 0.9999 && v <= hi * 1.0001) out.push({ v, major: k === 1, e });
    }
  }
  return out;
}

function PowLabel({ xr, y, exp, size }: { xr: number; y: number; exp: number; size: number }) {
  return (
    <text x={xr} y={y} textAnchor="end" fontFamily={FONT} fontSize={size} fill="#000">
      10<tspan dy={-size * 0.42} fontSize={size * 0.62}>{exp}</tspan>
    </text>
  );
}

function Frame({ top, bottom, scale, xMaj, xMin, labelOffsets }: {
  top: number; bottom: number; scale: d3.ScaleLogarithmic<number, number>; xMaj: number; xMin: number;
  labelOffsets: Record<number, number>;
}) {
  const ticks = logTicks(scale);
  const xt = d3.range(2, 40, 2);
  return (
    <g>
      <rect x={XL} y={top} width={XR - XL} height={bottom - top} fill="none" stroke="#000" strokeWidth={1.5} />
      {ticks.map((t, i) => {
        const yy = scale(t.v);
        const len = t.major ? 20 : 10;
        return (
          <g key={i}>
            <line x1={XL} x2={XL + len} y1={yy} y2={yy} stroke="#000" strokeWidth={1.2} />
            <line x1={XR} x2={XR - len} y1={yy} y2={yy} stroke="#000" strokeWidth={1.2} />
          </g>
        );
      })}
      {ticks.filter(t => t.major).map((t, i) => (
        <PowLabel key={'l' + i} xr={123} y={scale(t.v) + 8 + (labelOffsets[t.e] || 0)} exp={t.e} size={24} />
      ))}
      {xt.map((t, i) => {
        const major = (t - 2) % 6 === 0;
        const len = major ? xMaj : xMin;
        const xx = x(t);
        return (
          <g key={'x' + i}>
            <line x1={xx} x2={xx} y1={bottom} y2={bottom - len} stroke="#000" strokeWidth={1.2} />
            <line x1={xx} x2={xx} y1={top} y2={top + len} stroke="#000" strokeWidth={1.2} />
          </g>
        );
      })}
    </g>
  );
}

function ErrBars({ data, color, width, opacity }: { data: PE[]; color: string; width: number; opacity: number }) {
  return (
    <g stroke={color} strokeWidth={width} opacity={opacity}>
      {data.map((d, i) => {
        if (!d || d[2] <= 0) return null;
        const hi = d[1] * (1 + d[2]);
        const lo = Math.max(d[1] * (1 - d[2]), 5e21);
        return <line key={i} x1={x(d[0])} x2={x(d[0])} y1={yC(hi)} y2={yC(lo)} />;
      })}
    </g>
  );
}

export default function App() {
  const lineA = d3.line<number>().x((_, i) => x(T_GRID[i])).y(v => yA(v));
  const stepB = (vals: number[]) => {
    const pts: [number, number][] = vals.map((v, i) => [PNTH_EDGES[i], v]);
    pts.push([PNTH_EDGES[vals.length], vals[vals.length - 1]]);
    return d3.line<[number, number]>().curve(d3.curveStepAfter).x(d => x(d[0])).y(d => yB(d[1]))(pts) || '';
  };
  const lineC = d3.line<any>().defined((d: any) => d != null).x((d: any) => x(d[0])).y((d: any) => yC(d[1]));

  const aSeries = [
    { vals: RATE_50_100, color: '#cccc00' },
    { vals: RATE_25_50, color: '#00ffff' },
    { vals: RATE_6_12, color: '#ff00ff' },
    { vals: RATE_12_25, color: '#00ee00' },
  ];
  const bSeries = [
    { vals: PNTH_D6, color: '#cccc00', w: 1.2 },
    { vals: PNTH_D5, color: '#00ffff', w: 1.2 },
    { vals: PNTH_D4, color: '#33ee33', w: 1.2 },
    { vals: PNTH_D8, color: '#ff0000', w: 1.2 },
    { vals: PNTH_D9, color: '#0000ff', w: 1.2 },
    { vals: PNTH_D3, color: '#ff00ff', w: 1.2 },
    { vals: PNTH_MEAN, color: '#000000', w: 3 },
  ];
  const lya0 = LYA_1216[0] as [number, number, number];

  return (
    <svg width={1154} height={1465} viewBox="0 0 1154 1465"
      style={{ position: 'absolute', left: 0, top: 0, background: '#fff' }}>
      <defs>
        <clipPath id="clipA"><rect x={XL} y={PA.top} width={XR - XL} height={PA.bottom - PA.top} /></clipPath>
        <clipPath id="clipB"><rect x={XL} y={PB.top} width={XR - XL} height={PB.bottom - PB.top} /></clipPath>
        <clipPath id="clipC"><rect x={XL} y={PC.top} width={XR - XL} height={PC.bottom - PC.top} /></clipPath>
      </defs>
      <rect x={0} y={0} width={1154} height={1465} fill="#fff" />

      {/* Panel A */}
      <g clipPath="url(#clipA)">
        {aSeries.map((s, i) => (
          <path key={i} d={lineA(s.vals) || ''} fill="none" stroke={s.color} strokeWidth={1.3} />
        ))}
      </g>
      <Frame top={PA.top} bottom={PA.bottom} scale={yA} xMaj={8} xMin={4} labelOffsets={{}} />
      {LEGEND_A.map((l, i) => (
        <g key={i}>
          <line x1={162} x2={222} y1={42 + i * 20} y2={42 + i * 20} stroke={l.color} strokeWidth={1.3} />
          <text x={235} y={48 + i * 20} fontFamily={FONT} fontSize={20.5}>{l.label}</text>
        </g>
      ))}
      <text x={168} y={183} fontFamily={FONT} fontSize={20}>(a)</text>

      {/* Panel B */}
      <g clipPath="url(#clipB)">
        {bSeries.map((s, i) => (
          <path key={i} d={stepB(s.vals)} fill="none" stroke={s.color} strokeWidth={s.w} />
        ))}
      </g>
      <Frame top={PB.top} bottom={PB.bottom} scale={yB} xMaj={8} xMin={4} labelOffsets={{ 27: -8 }} />
      <rect x={999} y={327} width={146} height={150} fill="#fff" stroke="#000" strokeWidth={1.2} />
      {LEGEND_B.map((l, i) => (
        <g key={i}>
          <text x={1052} y={348 + i * 20} textAnchor="end" fontFamily={FONT} fontSize={19.5}>{l.label}</text>
          <line x1={1065} x2={1126} y1={342 + i * 20} y2={342 + i * 20} stroke={l.color}
            strokeWidth={l.label === 'Mean' ? 3 : 1.2} />
        </g>
      ))}
      <text x={168} y={358} fontFamily={FONT} fontSize={20}>(b)</text>

      {/* Panel C */}
      <g clipPath="url(#clipC)">
        <ErrBars data={LYA_1216} color="#222" width={1.3} opacity={0.9} />
        <ErrBars data={LYC_912} color="#ff8c1a" width={1.3} opacity={0.85} />
        <ErrBars data={HEII_304} color="#00ff00" width={1.2} opacity={0.9} />
        <ErrBars data={HEI_504} color="#2020ff" width={1.2} opacity={0.8} />
        <path d={lineC(HEII_304) || ''} fill="none" stroke="#00ff00" strokeWidth={1.2} />
        <path d={lineC(HEI_504) || ''} fill="none" stroke="#0000ff" strokeWidth={1.2} />
        <path d={lineC(LYA_1216) || ''} fill="none" stroke="#000" strokeWidth={1.3} />
        <path d={lineC(LYC_912) || ''} fill="none" stroke="#ff8000" strokeWidth={1.2} />
        <path d={lineC(CIV_1600) || ''} fill="none" stroke="#ff00ff" strokeWidth={1.3} />
        <path d={lineC(UV_1700) || ''} fill="none" stroke="#ff6f8f" strokeWidth={1.2} />
        <path d={lineC(CAII_3968) || ''} fill="none" stroke="#00e8f0" strokeWidth={4} />
        <path d={lineC(HEII_CONT_228) || ''} fill="none" stroke="#ff0000" strokeWidth={1.2} />
        <path d={lineC(BLUE_4504) || ''} fill="none" stroke="#c8846a" strokeWidth={1.2} />
        <path d={lineC(GREEN_5550) || ''} fill="none" stroke="#8a1fc0" strokeWidth={1.3} />
        <path d={lineC(RED_6624) || ''} fill="none" stroke="#008000" strokeWidth={1.3} />
        <path d={`M${x(lya0[0]) - 5},${yC(lya0[1]) + 4} L${x(lya0[0]) + 5},${yC(lya0[1]) + 4} L${x(lya0[0])},${yC(lya0[1]) - 5} Z`}
          fill="none" stroke="#000" strokeWidth={1.2} />
      </g>
      <Frame top={PC.top} bottom={PC.bottom} scale={yC} xMaj={17} xMin={8} labelOffsets={{ 22: -10 }} />
      {LEGEND_C.map((l, i) => (
        <text key={i} x={1118} y={1108 + i * 25.2} textAnchor="end" fontFamily={FONT} fontSize={25.2} fill={l.color}>
          {l.label}
        </text>
      ))}
      <text x={168} y={657} fontFamily={FONT} fontSize={20}>(c)</text>

      {/* X axis labels */}
      {X_TICK_LABELS.map((lab, i) => (
        <text key={i} x={x(2 + i * 6)} y={1430} textAnchor="middle" fontFamily={FONT} fontSize={24}>{lab}</text>
      ))}
      <text x={643} y={1456} textAnchor="middle" fontFamily={FONT} fontSize={25.5}>Start Time (15-Feb-11 01:40:00)</text>

      {/* Y titles */}
      <text transform="translate(27,159) rotate(-90)" textAnchor="middle" fontFamily={FONT} fontSize={25.3}>
        Corrected Count Rate
      </text>
      <text transform="translate(64,158) rotate(-90)" textAnchor="middle" fontFamily={FONT} fontSize={23}>
        (s<tspan dy={-9} fontSize={15}>-1</tspan><tspan dy={9}> detector</tspan><tspan dy={-9} fontSize={15}>-1</tspan><tspan dy={9}>)</tspan>
      </text>
      <text transform="translate(64,455) rotate(-90)" textAnchor="middle" fontFamily={FONT} fontSize={25}>
        P<tspan dy={6} fontSize={16}>nth</tspan><tspan dy={-6}> (ergs s</tspan><tspan dy={-9} fontSize={16}>-1</tspan><tspan dy={9}>)</tspan>
      </text>
      <text transform="translate(64,1000) rotate(-90)" textAnchor="middle" fontFamily={FONT} fontSize={25}>
        P<tspan dy={6} fontSize={16}>rad</tspan><tspan dy={-6}> (ergs s</tspan><tspan dy={-9} fontSize={16}>-1</tspan><tspan dy={9}>)</tspan>
      </text>
    </svg>
  );
}
